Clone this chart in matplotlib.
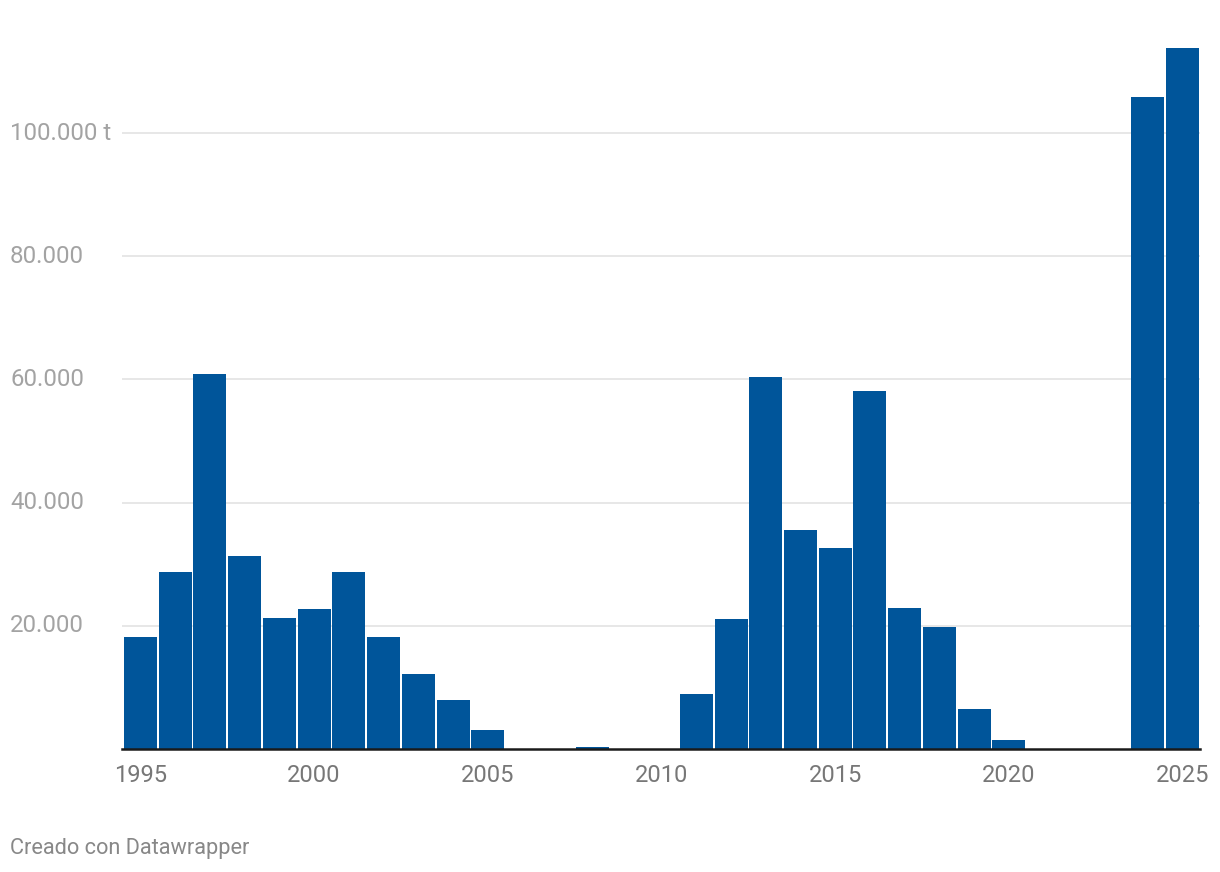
import matplotlib.pyplot as plt
import matplotlib.transforms as mtransforms

years = list(range(1995, 2026))
values = [18200, 28700, 60900, 31300, 21300, 22700, 28700, 18200, 12200, 8000,
          3100, 0, 0, 300, 0, 0, 8900, 21100, 60400, 35600,
          32600, 58100, 22900, 19800, 6500, 1500, 0, 0, 0, 105800, 113800]
yticks = [20000, 40000, 60000, 80000, 100000]
ylabels = ['20.000', '40.000', '60.000', '80.000', '100.000 t']
xticks = [1995, 2000, 2005, 2010, 2015, 2020, 2025]

plt.rcParams['font.family'] = ['Roboto', 'DejaVu Sans']

fig = plt.figure(figsize=(12.2, 8.72), dpi=100)
ax = fig.add_axes([122/1220, 1 - 749/872, (1200-122)/1220, 749/872])

ax.bar(years, values, width=0.95, color='#00559a', zorder=3)
ax.set_xlim(1994.47, 2025.5)
ax.set_ylim(0, 121600)

# y labels sit at the left edge of the figure, centred on the gridlines
ax.set_yticks(yticks)
ax.set_yticklabels([])
ax.grid(axis='y', color='#e3e3e3', linewidth=1.2, zorder=0)
trans = mtransforms.blended_transform_factory(fig.transFigure, ax.transData)
for v, lab in zip(yticks, ylabels):
    ax.text(10/1220, v, lab, transform=trans, fontsize=17.3,
            color='#a3a3a3', va='center', ha='left')

ax.set_xticks(xticks)
ax.set_xticklabels([str(x) for x in xticks])
ax.tick_params(axis='x', length=0, pad=11, labelsize=17, labelcolor='#777777')
ax.tick_params(axis='y', length=0)

for s in ['top', 'right', 'left']:
    ax.spines[s].set_visible(False)
ax.spines['bottom'].set_color('#1a1a1a')
ax.spines['bottom'].set_linewidth(1.8)
ax.spines['bottom'].set_zorder(4)

fig.text(10/1220, 1 - 848/872, 'Creado con Datawrapper', fontsize=15.7,
         color='#888888', va='center', ha='left')

fig.savefig('out.png', dpi=100)
